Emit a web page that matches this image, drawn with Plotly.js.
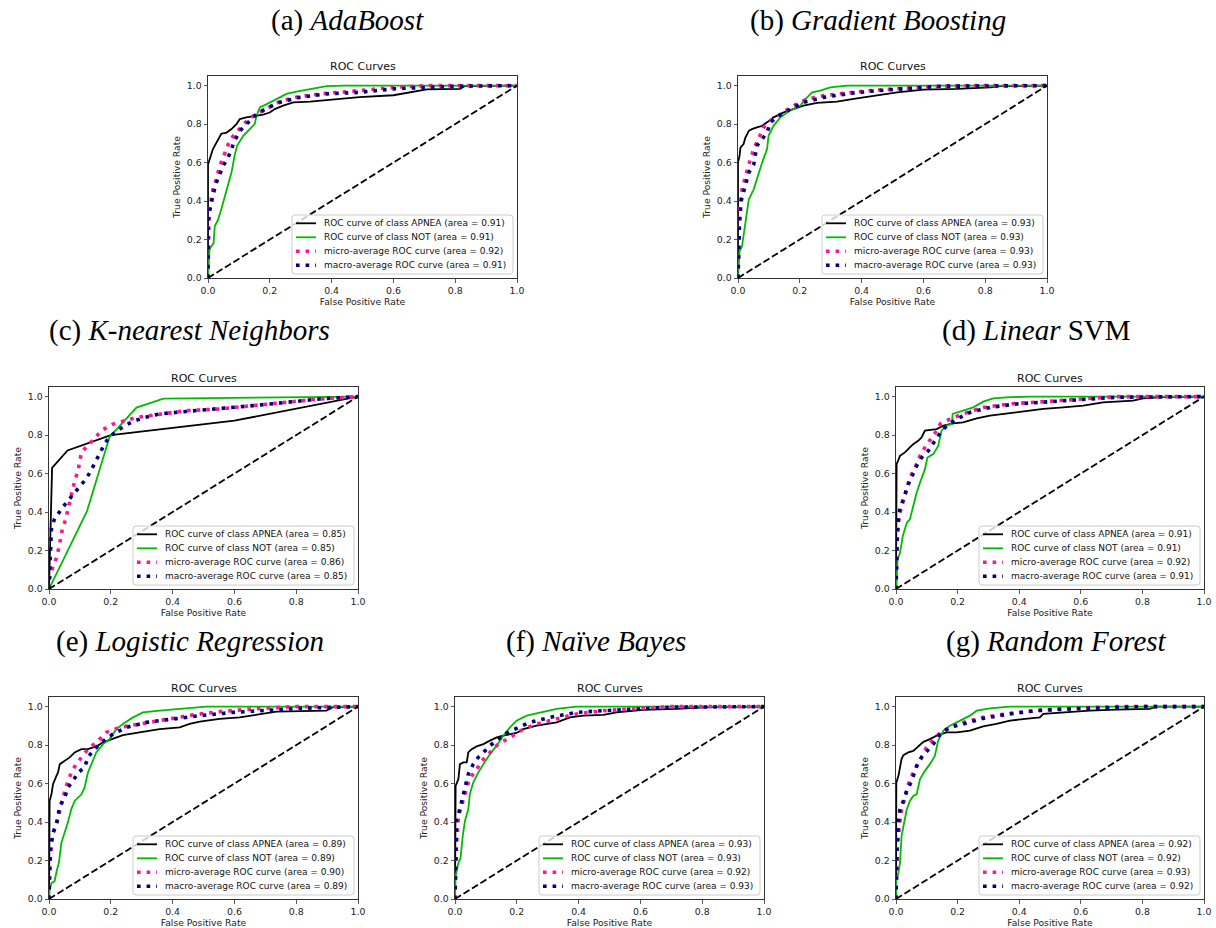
<!DOCTYPE html>
<html><head><meta charset="utf-8">
<script src="https://cdn.plot.ly/plotly-3.0.1.min.js"></script>
<style>html,body{margin:0;padding:0;background:#fff}#chart{width:1216px;height:928px}</style>
</head><body><div id="chart"></div>
<script>
// ---------------- DATA ----------------
const panelTitles = ['(a) <i>AdaBoost</i>', '(b) <i>Gradient Boosting</i>', '(c) <i>K-nearest Neighbors</i>',
  '(d) <i>Linear</i> SVM', '(e) <i>Logistic Regression</i>', '(f) <i>Naïve Bayes</i>', '(g) <i>Random Forest</i>'];
const classNames = ['APNEA', 'NOT'];
const tickVals = [0, 0.2, 0.4, 0.6, 0.8, 1.0];
const tickText = ['0.0', '0.2', '0.4', '0.6', '0.8', '1.0'];
const chanceLine = [[0, 0], [1, 1]];

// (a) AdaBoost
const adaApnea = [[0,0],[0,0.59],[0.016,0.67],[0.032,0.72],[0.043,0.75],[0.06,0.756],[0.076,0.774],[0.092,0.80],[0.103,0.826],[0.124,0.835],[0.157,0.843],[0.178,0.849],[0.2,0.86],[0.216,0.878],[0.243,0.896],[0.276,0.913],[0.33,0.917],[0.395,0.927],[0.49,0.94],[0.6,0.95],[0.665,0.969],[0.708,0.98],[0.816,0.983],[0.83,0.997],[1,1]];
const adaNot = [[0,0],[0.005,0.148],[0.011,0.165],[0.018,0.18],[0.022,0.27],[0.032,0.30],[0.043,0.357],[0.06,0.46],[0.076,0.548],[0.086,0.635],[0.094,0.687],[0.114,0.739],[0.135,0.774],[0.151,0.80],[0.157,0.843],[0.168,0.887],[0.19,0.904],[0.21,0.92],[0.232,0.939],[0.254,0.957],[0.286,0.969],[0.33,0.983],[0.384,0.997],[0.44,1],[1,1]];
const adaMicro = [[0,0],[0.001,0.217],[0.003,0.287],[0.005,0.357],[0.016,0.46],[0.027,0.513],[0.038,0.583],[0.049,0.626],[0.06,0.67],[0.07,0.713],[0.086,0.748],[0.108,0.783],[0.13,0.823],[0.157,0.852],[0.19,0.882],[0.232,0.917],[0.297,0.944],[0.384,0.96],[0.49,0.974],[0.6,0.991],[0.71,1],[1,1]];
const adaMacro = [[0,0],[0,0.29],[0.005,0.348],[0.011,0.4],[0.018,0.443],[0.027,0.496],[0.038,0.539],[0.049,0.583],[0.065,0.626],[0.086,0.713],[0.103,0.765],[0.124,0.8],[0.157,0.852],[0.19,0.882],[0.232,0.913],[0.297,0.939],[0.384,0.957],[0.49,0.965],[0.6,0.983],[0.708,0.991],[0.816,0.997],[1,1]];
const adaAreas = [0.91, 0.91, 0.92, 0.91];

// (b) Gradient Boosting
const gbApnea = [[0,0],[0,0.6],[0.005,0.635],[0.008,0.678],[0.018,0.696],[0.024,0.73],[0.035,0.765],[0.045,0.774],[0.061,0.783],[0.078,0.791],[0.094,0.809],[0.115,0.835],[0.148,0.861],[0.18,0.878],[0.212,0.896],[0.256,0.91],[0.32,0.917],[0.385,0.934],[0.45,0.951],[0.515,0.965],[0.6,0.979],[0.709,0.983],[0.817,0.991],[0.849,0.997],[1,1]];
const gbNot = [[0,0],[0.002,0.078],[0.005,0.139],[0.013,0.165],[0.024,0.287],[0.035,0.409],[0.051,0.461],[0.067,0.548],[0.078,0.6],[0.094,0.67],[0.099,0.739],[0.115,0.791],[0.137,0.835],[0.169,0.87],[0.202,0.896],[0.218,0.93],[0.24,0.965],[0.266,0.974],[0.299,0.991],[0.353,1],[1,1]];
const gbMicro = [[0,0],[0.002,0.217],[0.005,0.357],[0.013,0.461],[0.024,0.53],[0.035,0.591],[0.051,0.67],[0.067,0.73],[0.083,0.783],[0.105,0.817],[0.137,0.852],[0.18,0.896],[0.223,0.93],[0.277,0.948],[0.342,0.96],[0.428,0.974],[0.536,0.986],[0.655,0.997],[0.763,1],[1,1]];
const gbMacro = [[0,0],[0.002,0.183],[0.005,0.287],[0.01,0.4],[0.018,0.452],[0.035,0.548],[0.051,0.591],[0.061,0.687],[0.078,0.722],[0.094,0.757],[0.105,0.809],[0.132,0.843],[0.169,0.878],[0.212,0.913],[0.277,0.939],[0.364,0.96],[0.45,0.974],[0.547,0.986],[0.655,0.997],[1,1]];
const gbAreas = [0.93, 0.93, 0.93, 0.93];

// (c) K-nearest Neighbors
const knnApnea = [[0,0],[0.01,0.63],[0.06,0.72],[0.2,0.80],[0.6,0.875],[1,1]];
const knnNot = [[0,0],[0.123,0.405],[0.196,0.79],[0.283,0.943],[0.37,0.99],[1,1]];
const knnMicro = [[0,0],[0.002,0.057],[0.013,0.118],[0.024,0.162],[0.032,0.214],[0.043,0.31],[0.054,0.362],[0.061,0.414],[0.072,0.5],[0.083,0.562],[0.094,0.614],[0.105,0.71],[0.126,0.748],[0.148,0.783],[0.169,0.823],[0.207,0.857],[0.283,0.892],[0.358,0.91],[0.444,0.927],[0.552,0.936],[0.66,0.953],[0.768,0.97],[0.876,0.988],[1,1]];
const knnMacro = [[0,0],[0.002,0.083],[0.004,0.153],[0.005,0.214],[0.005,0.266],[0.008,0.318],[0.018,0.365],[0.035,0.405],[0.056,0.449],[0.076,0.487],[0.097,0.527],[0.119,0.57],[0.134,0.61],[0.148,0.654],[0.162,0.7],[0.178,0.748],[0.194,0.788],[0.216,0.817],[0.245,0.849],[0.272,0.871],[0.304,0.889],[0.358,0.91],[0.444,0.923],[0.552,0.936],[0.66,0.953],[0.768,0.97],[0.876,0.988],[1,1]];
const knnAreas = [0.85, 0.85, 0.86, 0.85];

// (d) Linear SVM
const svmApnea = [[0,0],[0,0.51],[0.002,0.649],[0.013,0.692],[0.029,0.71],[0.045,0.736],[0.056,0.753],[0.072,0.77],[0.083,0.788],[0.094,0.823],[0.11,0.826],[0.132,0.831],[0.154,0.849],[0.186,0.861],[0.218,0.866],[0.262,0.887],[0.305,0.901],[0.348,0.91],[0.413,0.922],[0.478,0.936],[0.543,0.944],[0.608,0.953],[0.672,0.97],[0.77,0.979],[0.802,0.991],[0.867,0.997],[1,1]];
const svmNot = [[0,0],[0.002,0.031],[0.005,0.153],[0.013,0.188],[0.022,0.275],[0.035,0.344],[0.045,0.362],[0.056,0.431],[0.067,0.5],[0.078,0.553],[0.094,0.623],[0.102,0.683],[0.121,0.701],[0.137,0.744],[0.148,0.823],[0.164,0.849],[0.181,0.857],[0.184,0.91],[0.218,0.927],[0.251,0.944],[0.283,0.974],[0.316,0.991],[0.37,0.997],[0.435,1],[1,1]];
const svmMicro = [[0,0],[0.002,0.223],[0.005,0.327],[0.013,0.397],[0.024,0.466],[0.035,0.518],[0.045,0.579],[0.062,0.631],[0.078,0.692],[0.094,0.736],[0.11,0.77],[0.132,0.823],[0.143,0.857],[0.175,0.883],[0.218,0.91],[0.283,0.944],[0.37,0.962],[0.478,0.974],[0.608,0.991],[0.716,1],[1,1]];
const svmMacro = [[0,0],[0.002,0.153],[0.004,0.257],[0.008,0.362],[0.013,0.423],[0.024,0.466],[0.04,0.544],[0.067,0.64],[0.083,0.683],[0.105,0.718],[0.121,0.762],[0.137,0.797],[0.164,0.849],[0.197,0.883],[0.24,0.918],[0.305,0.944],[0.391,0.962],[0.499,0.974],[0.608,0.984],[0.716,0.997],[1,1]];
const svmAreas = [0.91, 0.91, 0.92, 0.91];

// (e) Logistic Regression
const lrApnea = [[0,0],[0,0.379],[0.002,0.51],[0.008,0.544],[0.013,0.597],[0.024,0.64],[0.029,0.657],[0.035,0.701],[0.051,0.718],[0.067,0.736],[0.083,0.762],[0.105,0.779],[0.126,0.779],[0.153,0.793],[0.175,0.814],[0.207,0.831],[0.239,0.852],[0.293,0.866],[0.358,0.883],[0.423,0.892],[0.455,0.91],[0.488,0.922],[0.552,0.936],[0.617,0.944],[0.682,0.962],[0.736,0.974],[0.898,0.979],[0.919,0.997],[1,1]];
const lrNot = [[0,0],[0.002,0.049],[0.008,0.083],[0.018,0.092],[0.026,0.153],[0.032,0.188],[0.04,0.292],[0.051,0.344],[0.061,0.397],[0.072,0.466],[0.083,0.51],[0.105,0.544],[0.115,0.579],[0.126,0.657],[0.137,0.701],[0.153,0.762],[0.175,0.805],[0.196,0.831],[0.218,0.883],[0.239,0.91],[0.272,0.944],[0.304,0.97],[0.358,0.979],[0.434,0.991],[0.509,1],[1,1]];
const lrMicro = [[0,0],[0.002,0.153],[0.008,0.292],[0.013,0.344],[0.024,0.388],[0.035,0.466],[0.045,0.527],[0.056,0.588],[0.072,0.657],[0.088,0.701],[0.105,0.736],[0.126,0.779],[0.153,0.814],[0.186,0.866],[0.229,0.892],[0.293,0.91],[0.38,0.936],[0.466,0.957],[0.552,0.974],[0.66,0.988],[0.79,1],[1,1]];
const lrMacro = [[0,0],[0.002,0.188],[0.004,0.249],[0.008,0.292],[0.013,0.344],[0.024,0.388],[0.035,0.483],[0.051,0.527],[0.061,0.579],[0.078,0.614],[0.094,0.657],[0.115,0.683],[0.126,0.736],[0.142,0.77],[0.169,0.814],[0.207,0.857],[0.25,0.892],[0.315,0.918],[0.401,0.936],[0.488,0.953],[0.595,0.97],[0.703,0.979],[0.811,0.991],[1,1]];
const lrAreas = [0.89, 0.89, 0.90, 0.89];

// (f) Naive Bayes
const nbApnea = [[0,0],[0,0.46],[0.002,0.588],[0.011,0.623],[0.016,0.701],[0.027,0.71],[0.038,0.71],[0.043,0.762],[0.054,0.779],[0.07,0.793],[0.092,0.805],[0.113,0.823],[0.135,0.84],[0.156,0.849],[0.199,0.863],[0.221,0.883],[0.264,0.901],[0.329,0.918],[0.372,0.944],[0.415,0.953],[0.48,0.957],[0.523,0.97],[0.609,0.983],[0.717,0.988],[0.824,0.997],[1,1]];
const nbNot = [[0,0],[0.002,0.118],[0.011,0.188],[0.018,0.214],[0.025,0.327],[0.032,0.405],[0.043,0.466],[0.048,0.544],[0.059,0.605],[0.075,0.657],[0.092,0.701],[0.113,0.753],[0.135,0.797],[0.156,0.849],[0.178,0.892],[0.199,0.927],[0.232,0.953],[0.286,0.974],[0.329,0.988],[0.393,1],[1,1]];
const nbMicro = [[0,0],[0.002,0.153],[0.005,0.292],[0.011,0.431],[0.022,0.483],[0.032,0.544],[0.043,0.605],[0.054,0.64],[0.07,0.675],[0.092,0.727],[0.113,0.762],[0.14,0.805],[0.178,0.84],[0.221,0.883],[0.264,0.91],[0.329,0.936],[0.393,0.962],[0.48,0.979],[0.587,0.991],[0.695,1],[1,1]];
const nbMacro = [[0,0],[0.002,0.205],[0.003,0.31],[0.005,0.414],[0.014,0.457],[0.022,0.51],[0.029,0.562],[0.043,0.649],[0.059,0.701],[0.075,0.736],[0.097,0.77],[0.113,0.797],[0.14,0.831],[0.167,0.863],[0.199,0.887],[0.242,0.918],[0.307,0.944],[0.393,0.97],[0.48,0.979],[0.587,0.988],[0.695,0.997],[1,1]];
const nbAreas = [0.93, 0.93, 0.92, 0.93];

// (g) Random Forest
const rfApnea = [[0,0],[0,0.48],[0.001,0.605],[0.008,0.64],[0.013,0.675],[0.018,0.727],[0.024,0.748],[0.04,0.762],[0.056,0.77],[0.072,0.793],[0.089,0.817],[0.11,0.831],[0.132,0.849],[0.164,0.866],[0.197,0.866],[0.24,0.875],[0.283,0.897],[0.326,0.91],[0.37,0.927],[0.435,0.939],[0.467,0.944],[0.478,0.962],[0.543,0.97],[0.629,0.979],[0.716,0.984],[0.824,0.988],[0.845,1],[1,1]];
const rfNot = [[0,0],[0.001,0.101],[0.008,0.136],[0.013,0.188],[0.018,0.327],[0.026,0.397],[0.035,0.466],[0.045,0.51],[0.056,0.536],[0.067,0.544],[0.078,0.623],[0.094,0.666],[0.11,0.701],[0.126,0.744],[0.137,0.823],[0.154,0.875],[0.175,0.901],[0.208,0.927],[0.24,0.953],[0.262,0.979],[0.305,0.991],[0.37,1],[1,1]];
const rfMicro = [[0,0],[0.001,0.118],[0.004,0.257],[0.011,0.379],[0.018,0.466],[0.029,0.527],[0.04,0.597],[0.051,0.64],[0.067,0.692],[0.083,0.744],[0.099,0.788],[0.121,0.831],[0.143,0.863],[0.175,0.892],[0.218,0.918],[0.283,0.944],[0.37,0.965],[0.478,0.983],[0.608,0.993],[0.716,1],[1,1]];
const rfMacro = [[0,0],[0.001,0.188],[0.004,0.31],[0.008,0.397],[0.013,0.466],[0.024,0.51],[0.035,0.562],[0.051,0.614],[0.067,0.692],[0.083,0.736],[0.105,0.779],[0.121,0.805],[0.143,0.857],[0.175,0.892],[0.218,0.91],[0.283,0.939],[0.37,0.962],[0.456,0.979],[0.564,0.988],[0.672,0.993],[0.802,1],[1,1]];
const rfAreas = [0.92, 0.92, 0.93, 0.92];

// ---------------- LAYOUT / STYLE ----------------
const W = 1216, H = 928;
// plot area boxes in pixels [left, top, right, bottom]
const plotBoxes = [[208,76,517,278],[738,76,1047,278],[49,387,358,589],[896,387,1204,589],[49,697,358,899],[455,697,764,899],[896,697,1204,899]];
const titleCenters = [[348,20],[877.5,20],[189.5,330],[1036,330],[189.5,641],[596,641],[1056.5,641]];
const panelCurves = [
  [adaApnea, adaNot, adaMicro, adaMacro], [gbApnea, gbNot, gbMicro, gbMacro], [knnApnea, knnNot, knnMicro, knnMacro],
  [svmApnea, svmNot, svmMicro, svmMacro], [lrApnea, lrNot, lrMicro, lrMacro], [nbApnea, nbNot, nbMicro, nbMacro],
  [rfApnea, rfNot, rfMicro, rfMacro]];
const panelAreas = [adaAreas, gbAreas, knnAreas, svmAreas, lrAreas, nbAreas, rfAreas];

const curveStyles = [
  {color: '#000000', width: 1.8, dash: 'solid'},
  {color: '#00bb00', width: 1.8, dash: 'solid'},
  {color: '#ff1493', width: 3.6, dash: '3.6px,6px'},
  {color: '#000080', width: 3.6, dash: '3.6px,6px'}];
const diagStyle = {color: '#000000', width: 1.8, dash: '7px,3px'};
const FONT = 'DejaVu Sans, sans-serif';
const px = v => v / W;
const py = v => 1 - v / H;

function labelsFor(areas) {
  return [
    `ROC curve of class ${classNames[0]} (area = ${areas[0].toFixed(2)})`,
    `ROC curve of class ${classNames[1]} (area = ${areas[1].toFixed(2)})`,
    `micro-average ROC curve (area = ${areas[2].toFixed(2)})`,
    `macro-average ROC curve (area = ${areas[3].toFixed(2)})`];
}

const traces = [];
const layout = {
  width: W, height: H, autosize: false,
  margin: {l: 0, r: 0, t: 0, b: 0},
  paper_bgcolor: '#ffffff', plot_bgcolor: '#ffffff',
  showlegend: false,
  annotations: [], shapes: []
};

plotBoxes.forEach((b, i) => {
  const sfx = i === 0 ? '' : String(i + 1);
  const xa = 'x' + sfx, ya = 'y' + sfx;
  const labels = labelsFor(panelAreas[i]);
  panelCurves[i].forEach((c, k) => {
    traces.push({
      type: 'scatter', mode: 'lines', xaxis: xa, yaxis: ya, name: labels[k],
      x: c.map(p => p[0]), y: c.map(p => p[1]),
      line: {color: curveStyles[k].color, width: curveStyles[k].width, dash: curveStyles[k].dash},
      hoverinfo: 'skip'
    });
  });
  traces.push({type: 'scatter', mode: 'lines', xaxis: xa, yaxis: ya, name: 'chance',
    x: chanceLine.map(p => p[0]), y: chanceLine.map(p => p[1]),
    line: diagStyle, hoverinfo: 'skip'});

  const common = {
    showline: true, mirror: true, linecolor: '#333', linewidth: 1,
    ticks: 'outside', ticklen: 3.5, tickwidth: 0.8, tickcolor: '#333',
    showgrid: false, zeroline: false, fixedrange: true,
    tickvals: tickVals, ticktext: tickText,
    tickfont: {family: FONT, size: 9.4, color: '#222'}
  };
  layout['xaxis' + sfx] = Object.assign({}, common, {
    domain: [px(b[0]), px(b[2])], anchor: ya, range: [0, 1],
    title: {text: 'False Positive Rate', font: {family: FONT, size: 9.2, color: '#222'}, standoff: 2}
  });
  layout['yaxis' + sfx] = Object.assign({}, common, {
    domain: [py(b[3]), py(b[1])], anchor: xa, range: [0, 1.05],
    title: {text: 'True Positive Rate', font: {family: FONT, size: 9.2, color: '#222'}, standoff: 4}
  });

  // subplot title
  layout.annotations.push({xref: 'paper', yref: 'paper', x: px((b[0] + b[2]) / 2), y: py(b[1] - 9),
    xanchor: 'center', yanchor: 'middle', showarrow: false, text: 'ROC Curves',
    font: {family: FONT, size: 11, color: '#111'}});
  // panel caption
  const tc = titleCenters[i];
  layout.annotations.push({xref: 'paper', yref: 'paper', x: px(tc[0]), y: py(tc[1]),
    xanchor: 'center', yanchor: 'middle', showarrow: false, text: panelTitles[i],
    font: {family: 'Liberation Serif, serif', size: 29, color: '#000'}});

  // legend box (matplotlib style)
  const lr = b[2] - 4, lb = b[3] - 4, lw = 221, lh = 59, rr = 3;
  const ll = lr - lw, lt = lb - lh;
  const P = (x, y) => `${px(x)},${py(y)}`;
  const path = `M ${P(ll + rr, lt)} L ${P(lr - rr, lt)} Q ${P(lr, lt)} ${P(lr, lt + rr)} L ${P(lr, lb - rr)} Q ${P(lr, lb)} ${P(lr - rr, lb)} L ${P(ll + rr, lb)} Q ${P(ll, lb)} ${P(ll, lb - rr)} L ${P(ll, lt + rr)} Q ${P(ll, lt)} ${P(ll + rr, lt)} Z`;
  layout.shapes.push({type: 'path', xref: 'paper', yref: 'paper', path: path, layer: 'above',
    fillcolor: 'rgba(255,255,255,0.8)', line: {color: '#cccccc', width: 1}});
  labels.forEach((t, k) => {
    const ry = lt + 8.3 + 14 * k;
    layout.shapes.push({type: 'line', xref: 'paper', yref: 'paper', layer: 'above',
      x0: px(ll + 4), x1: px(ll + 24), y0: py(ry), y1: py(ry),
      line: {color: curveStyles[k].color, width: curveStyles[k].width, dash: curveStyles[k].dash}});
    layout.annotations.push({xref: 'paper', yref: 'paper', x: px(ll + 30), y: py(ry),
      xanchor: 'left', yanchor: 'middle', showarrow: false, text: t,
      font: {family: FONT, size: 9, color: '#111'}});
  });
});

Plotly.newPlot('chart', traces, layout, {staticPlot: true, displayModeBar: false});
</script>
</body></html>
